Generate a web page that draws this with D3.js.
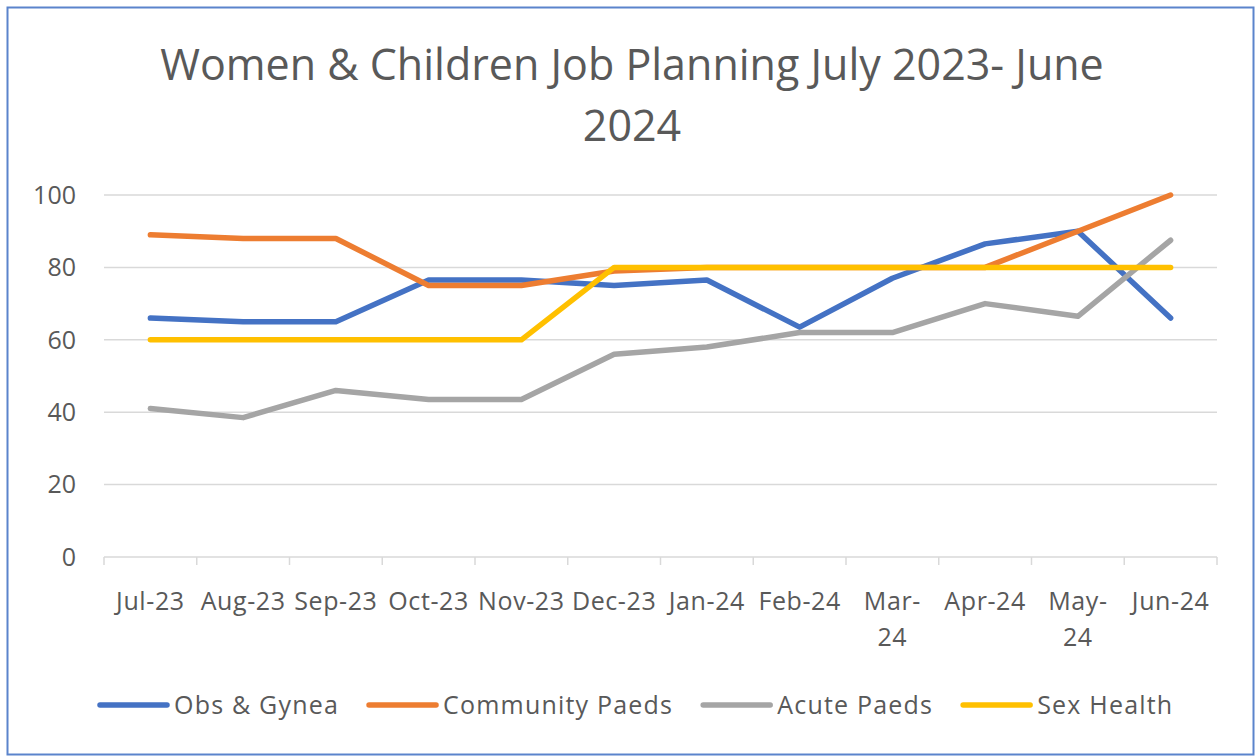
<!DOCTYPE html>
<html>
<head>
<meta charset="utf-8">
<script src="https://cdn.jsdelivr.net/npm/d3@7"></script>
<style>
  html, body { margin: 0; padding: 0; background: #fff; }
  svg { display: block; font-family: "Open Sans", "Noto Sans", sans-serif; }
</style>
</head>
<body>
<script>
// ************** Data *****************
const months = ["Jul-23", "Aug-23", "Sep-23", "Oct-23", "Nov-23", "Dec-23",
                "Jan-24", "Feb-24", "Mar-24", "Apr-24", "May-24", "Jun-24"];
// how Excel wrapped the category labels
const tickLabels = [["Jul-23"], ["Aug-23"], ["Sep-23"], ["Oct-23"], ["Nov-23"], ["Dec-23"],
                    ["Jan-24"], ["Feb-24"], ["Mar-", "24"], ["Apr-24"], ["May-", "24"], ["Jun-24"]];
const yTicks = [0, 20, 40, 60, 80, 100];

const obsGynea       = [66, 65, 65, 76.5, 76.5, 75, 76.5, 63.5, 77, 86.5, 90, 66];
const communityPaeds = [89, 88, 88, 75, 75, 79, 80, 80, 80, 80, 90, 100];
const acutePaeds     = [41, 38.5, 46, 43.5, 43.5, 56, 58, 62, 62, 70, 66.5, 87.5];
const sexHealth      = [60, 60, 60, 60, 60, 80, 80, 80, 80, 80, 80, 80];

const seriesNames  = ["Obs & Gynea", "Community Paeds", "Acute Paeds", "Sex Health"];
const seriesColors = ["#4472C4", "#ED7D31", "#A5A5A5", "#FFC000"];
const seriesValues = [obsGynea, communityPaeds, acutePaeds, sexHealth];

const titleLines = ["Women & Children Job Planning July 2023- June", "2024"];

// ************** Setup *****************
let width = 1257;
let height = 756;
const plot = { left: 104, right: 1217, top: 195, bottom: 557 };
const textColor = "#595959";
const gridColor = "#d9d9d9";

let svg = d3.select("body").append("svg")
  .attr("width", width)
  .attr("height", height);

// outer border of the chart object
svg.append("rect")
  .attr("x", 7.5).attr("y", 7.5)
  .attr("width", 1246).attr("height", 747)
  .attr("fill", "#fff")
  .attr("stroke", "#5b84cc")
  .attr("stroke-width", 2);

let x = d3.scalePoint()
  .domain(months)
  .range([plot.left, plot.right])
  .padding(0.5);
let band = x.step();

let y = d3.scaleLinear()
  .domain([0, 100])
  .range([plot.bottom, plot.top]);

// title
svg.append("g").selectAll("text")
  .data(titleLines)
  .enter().append("text")
    .attr("x", 632)
    .attr("y", (d, i) => 80 + i * 61)
    .attr("text-anchor", "middle")
    .attr("fill", textColor)
    .style("font-size", "43px")
    .text(d => d);

// gridlines
svg.append("g").selectAll("line")
  .data(yTicks.filter(d => d > 0))
  .enter().append("line")
    .attr("x1", plot.left).attr("x2", plot.right)
    .attr("y1", d => y(d)).attr("y2", d => y(d))
    .attr("stroke", gridColor)
    .attr("stroke-width", 1.5);

// y labels
svg.append("g").selectAll("text")
  .data(yTicks)
  .enter().append("text")
    .attr("x", 76)
    .attr("y", d => y(d))
    .attr("dy", "0.35em")
    .attr("text-anchor", "end")
    .attr("fill", textColor)
    .style("font-size", "25px")
    .text(d => d);

// x axis line and tick marks between categories
let xAxis = svg.append("g");
xAxis.append("line")
  .attr("x1", plot.left).attr("x2", plot.right)
  .attr("y1", y(0)).attr("y2", y(0))
  .attr("stroke", gridColor)
  .attr("stroke-width", 1.5);
xAxis.selectAll("line.tick")
  .data(d3.range(months.length + 1))
  .enter().append("line")
    .attr("class", "tick")
    .attr("x1", i => plot.left + i * band).attr("x2", i => plot.left + i * band)
    .attr("y1", y(0)).attr("y2", y(0) + 8)
    .attr("stroke", gridColor)
    .attr("stroke-width", 1.5);

// x labels
let xl = xAxis.selectAll("text")
  .data(months)
  .enter().append("text")
    .attr("x", d => x(d))
    .attr("y", 610)
    .attr("text-anchor", "middle")
    .attr("fill", textColor)
    .style("font-size", "25px")
    .style("letter-spacing", "0.6px");
xl.selectAll("tspan")
  .data((d, i) => tickLabels[i])
  .enter().append("tspan")
    .attr("x", function() { return this.parentNode.getAttribute("x"); })
    .attr("dy", (d, i) => i === 0 ? 0 : 36)
    .text(d => d);

// ****************** Lines ***************************
let line = d3.line()
  .x((d, i) => x(months[i]))
  .y(d => y(d));

svg.append("g").selectAll("path")
  .data(seriesValues)
  .enter().append("path")
    .attr("d", d => line(d))
    .attr("fill", "none")
    .attr("stroke", (d, i) => seriesColors[i])
    .attr("stroke-width", 5.5)
    .attr("stroke-linejoin", "round")
    .attr("stroke-linecap", "round");

// ****************** Legend ***************************
let legend = svg.append("g");
let lx = 98;
seriesNames.forEach((name, i) => {
  let g = legend.append("g");
  g.append("line")
    .attr("x1", lx + 2).attr("x2", lx + 69)
    .attr("y1", 705).attr("y2", 705)
    .attr("stroke", seriesColors[i])
    .attr("stroke-width", 5.5)
    .attr("stroke-linecap", "round");
  let t = g.append("text")
    .attr("x", lx + 76)
    .attr("y", 705)
    .attr("dy", "0.35em")
    .attr("fill", textColor)
    .style("font-size", "25px")
    .style("letter-spacing", "1.2px")
    .text(name);
  lx += 76 + t.node().getComputedTextLength() + 28;
});
</script>
</body>
</html>
